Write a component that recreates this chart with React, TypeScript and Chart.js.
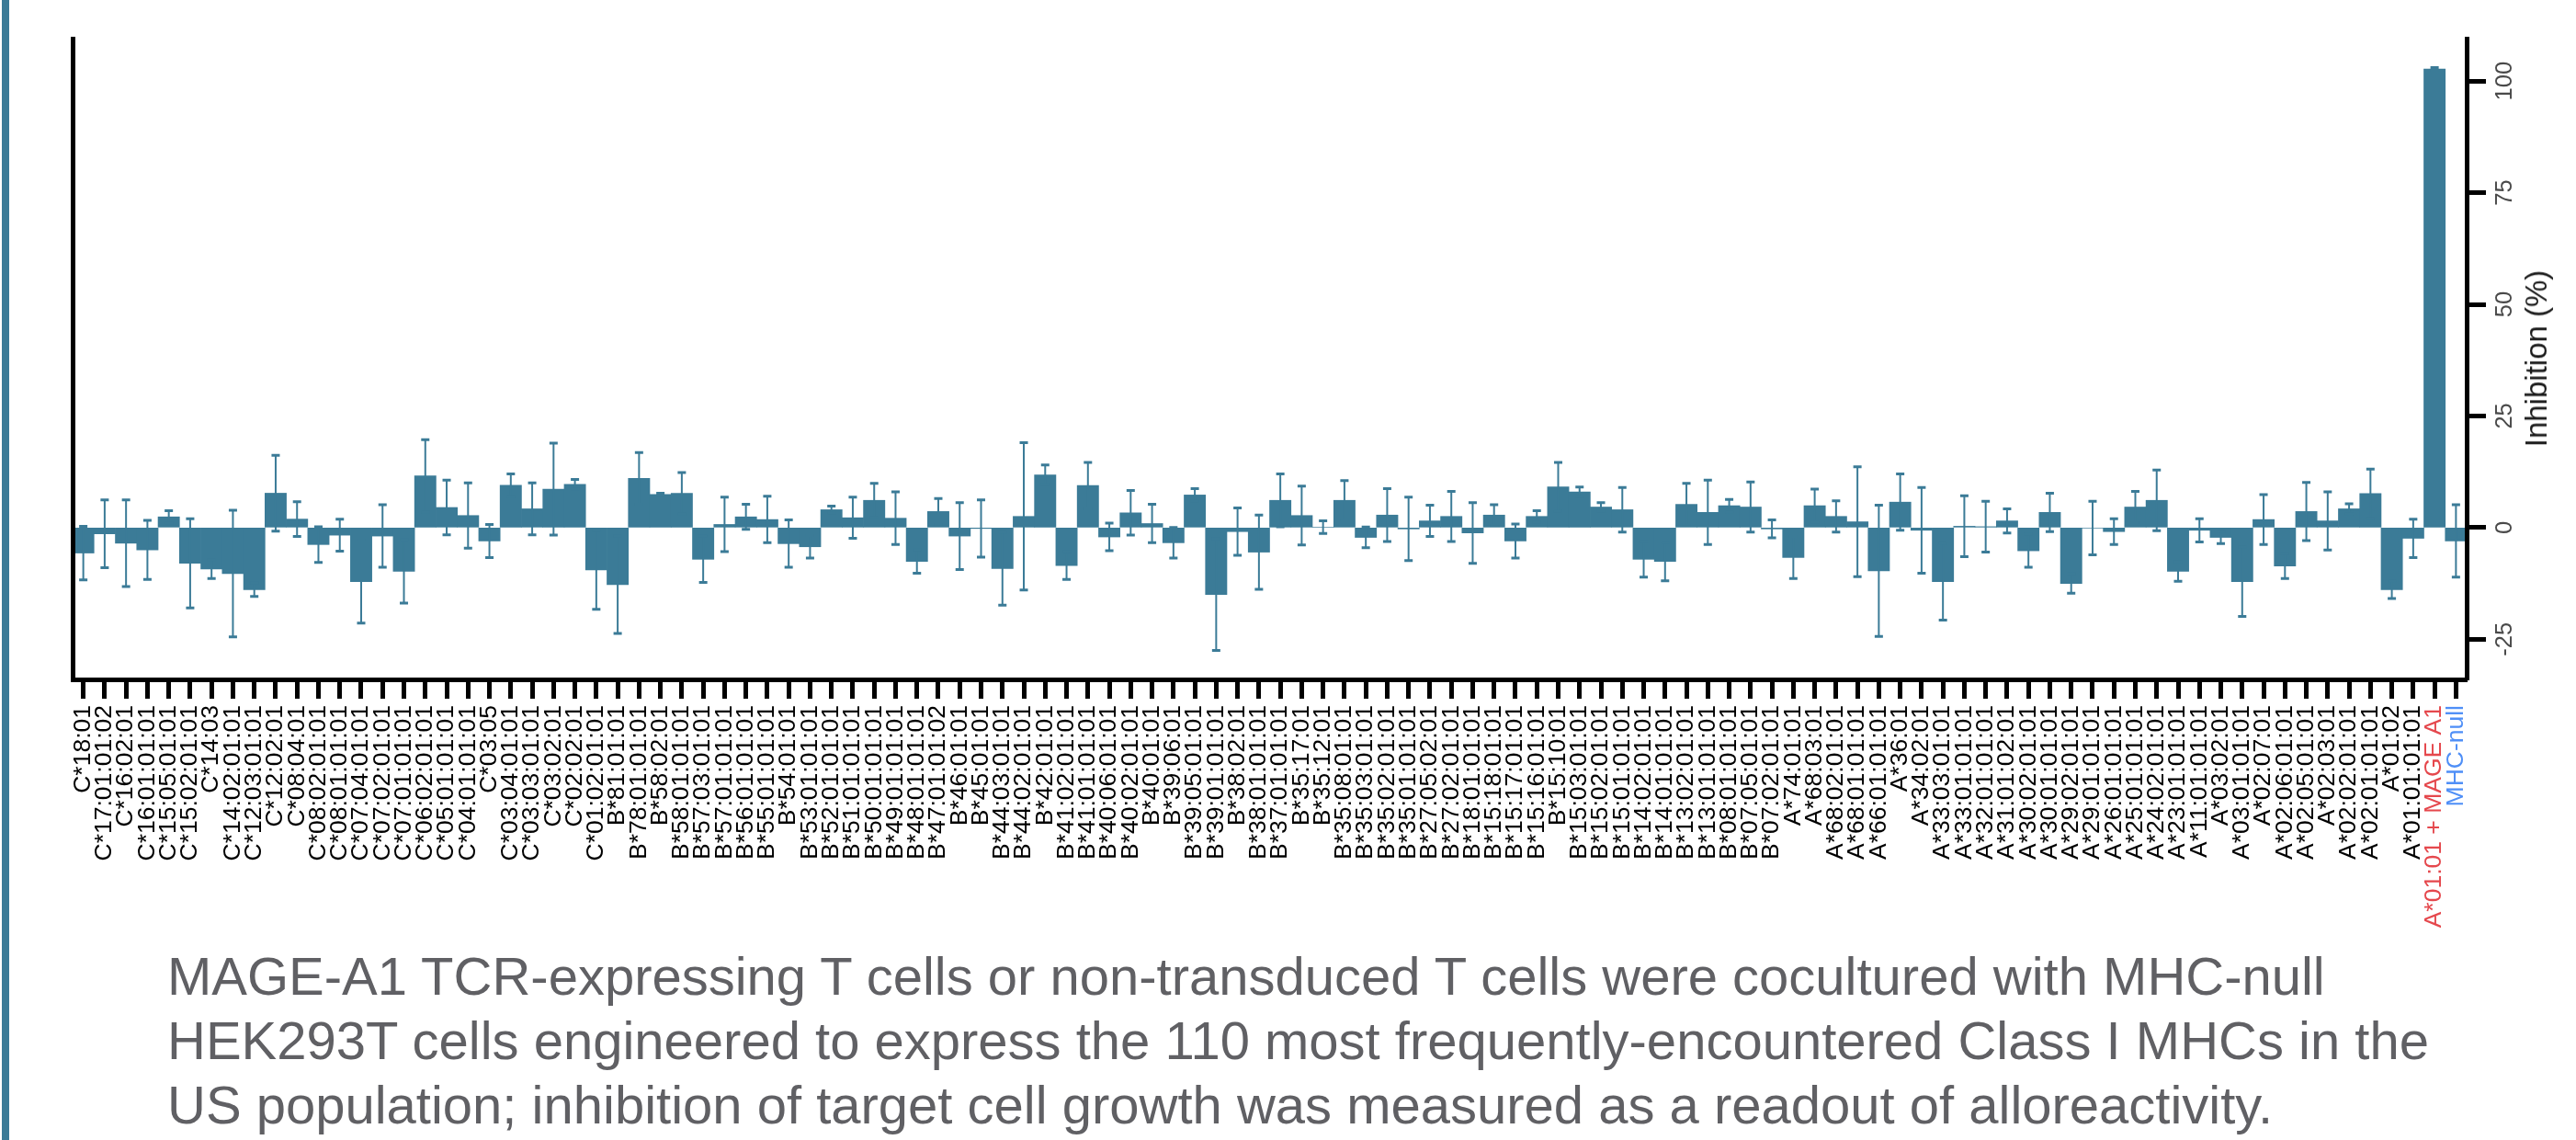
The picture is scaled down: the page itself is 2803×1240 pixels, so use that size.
import React, { useEffect, useRef } from 'react';
import { Chart, registerables } from 'chart.js';

Chart.register(...registerables);

const FONT = "'Liberation Sans', Arial, Helvetica, sans-serif";
const BAR_COLOR = '#3b7b97';

const alleleLabels = [
  'C*18:01', 'C*17:01:01:02', 'C*16:02:01', 'C*16:01:01:01', 'C*15:05:01:01', 'C*15:02:01:01', 'C*14:03',
  'C*14:02:01:01', 'C*12:03:01:01', 'C*12:02:01', 'C*08:04:01', 'C*08:02:01:01', 'C*08:01:01:01',
  'C*07:04:01:01', 'C*07:02:01:01', 'C*07:01:01:01', 'C*06:02:01:01', 'C*05:01:01:01', 'C*04:01:01:01',
  'C*03:05', 'C*03:04:01:01', 'C*03:03:01:01', 'C*03:02:01', 'C*02:02:01', 'C*01:02:01:01',
  'B*81:01:01', 'B*78:01:01:01', 'B*58:02:01', 'B*58:01:01:01', 'B*57:03:01:01', 'B*57:01:01:01',
  'B*56:01:01:01', 'B*55:01:01:01', 'B*54:01:01', 'B*53:01:01:01', 'B*52:01:01:01', 'B*51:01:01:01',
  'B*50:01:01:01', 'B*49:01:01:01', 'B*48:01:01:01', 'B*47:01:01:02', 'B*46:01:01', 'B*45:01:01',
  'B*44:03:01:01', 'B*44:02:01:01', 'B*42:01:01', 'B*41:02:01:01', 'B*41:01:01:01', 'B*40:06:01:01',
  'B*40:02:01:01', 'B*40:01:01', 'B*39:06:01', 'B*39:05:01:01', 'B*39:01:01:01', 'B*38:02:01',
  'B*38:01:01:01', 'B*37:01:01:01', 'B*35:17:01', 'B*35:12:01', 'B*35:08:01:01', 'B*35:03:01:01',
  'B*35:02:01:01', 'B*35:01:01:01', 'B*27:05:02:01', 'B*27:02:01:01', 'B*18:01:01:01', 'B*15:18:01:01',
  'B*15:17:01:01', 'B*15:16:01:01', 'B*15:10:01', 'B*15:03:01:01', 'B*15:02:01:01', 'B*15:01:01:01',
  'B*14:02:01:01', 'B*14:01:01:01', 'B*13:02:01:01', 'B*13:01:01:01', 'B*08:01:01:01', 'B*07:05:01:01',
  'B*07:02:01:01',
  'A*74:01:01', 'A*68:03:01', 'A*68:02:01:01', 'A*68:01:01:01', 'A*66:01:01:01', 'A*36:01', 'A*34:02:01',
  'A*33:03:01:01', 'A*33:01:01:01', 'A*32:01:01:01', 'A*31:01:02:01', 'A*30:02:01:01', 'A*30:01:01:01',
  'A*29:02:01:01', 'A*29:01:01:01', 'A*26:01:01:01', 'A*25:01:01:01', 'A*24:02:01:01', 'A*23:01:01:01',
  'A*11:01:01:01', 'A*03:02:01', 'A*03:01:01:01', 'A*02:07:01', 'A*02:06:01:01', 'A*02:05:01:01',
  'A*02:03:01', 'A*02:02:01:01', 'A*02:01:01:01', 'A*01:02', 'A*01:01:01:01',
];
const controlLabels = ['A*01:01 + MAGE A1', 'MHC-null'];
const categories = [...alleleLabels, ...controlLabels];

const meanValues = [
  -5.7, -1.4, -3.5, -5.0, 2.4, -8.0, -9.3, -10.3, -13.9, 7.7, 1.9, -3.8, -1.7, -12.1, -1.9, -9.8, 11.6, 4.5, 2.7,
  -3.0, 9.5, 4.2, 8.6, 9.7, -9.5,
  -12.8, 11.0, 7.4, 7.7, -7.1, 0.7, 2.4, 1.8, -3.6, -4.3, 4.0, 2.2, 6.1, 2.1, -7.6, 3.6, -1.9, -0.2, -9.2, 2.5,
  11.8, -8.5, 9.4, -2.1, 3.3, 0.9, -3.4, 7.3, -15.0, -0.9, -5.5, 6.1, 2.7, 0.1, 6.1, -2.2, 2.8, -0.3, 1.5, 2.5,
  -1.2, 2.8, -3.0, 2.5, 9.1, 8.0, 4.6, 4.0, -7.1, -7.6, 5.2, 3.4, 4.9, 4.6, -0.3,
  -6.7, 4.9, 2.5, 1.3, -9.7, 5.7, -0.6, -12.1, 0.3, 0.2, 1.5, -5.2, 3.4, -12.5, -0.1, -0.9, 4.6, 6.1, -9.8,
  -0.6, -2.2, -12.1, 1.8, -8.6, 3.6, 1.5, 4.2, 7.6, -13.9, -2.4,
  102.7, -3.0,
];

const sdValues = [
  6.0, 7.6, 9.7, 6.6, 1.4, 10.0, 2.1, 14.2, 1.5, 8.5, 3.9, 4.0, 3.6, 9.3, 7.0, 7.1, 8.1, 6.1, 7.3,
  3.7, 2.5, 5.8, 10.3, 1.1, 8.8,
  10.9, 5.8, 0.3, 4.6, 5.2, 6.1, 2.8, 5.2, 5.3, 2.5, 0.8, 4.6, 3.8, 5.9, 2.6, 2.9, 7.5, 6.4, 8.2, 16.5,
  2.2, 3.1, 5.2, 3.1, 5.0, 4.3, 3.4, 1.4, 12.5, 5.3, 8.3, 5.9, 6.6, 1.4, 4.4, 2.3, 5.9, 7.1, 3.5, 5.6,
  6.8, 2.3, 3.8, 1.3, 5.5, 1.1, 1.0, 5.0, 4.0, 4.3, 4.7, 7.2, 1.4, 5.6, 2.0,
  4.7, 3.7, 3.5, 12.3, 14.7, 6.3, 9.6, 8.6, 6.8, 5.7, 2.7, 3.7, 4.3, 2.2, 6.0, 2.9, 3.5, 6.8, 2.2,
  2.6, 1.4, 7.8, 5.6, 2.8, 6.5, 6.5, 1.1, 5.5, 2.0, 4.3,
  0.3, 8.1,
];

const yTickValues = [-25, 0, 25, 50, 75, 100];
const yAxisTitle = 'Inhibition (%)';
const captionLines = [
  'MAGE-A1 TCR-expressing T cells or non-transduced T cells were cocultured with MHC-null',
  'HEK293T cells engineered to express the 110 most frequently-encountered Class I MHCs in the',
  'US population; inhibition of target cell growth was measured as a readout of alloreactivity.',
];

const CANVAS_W = 2803;
const CANVAS_H = 1030;
const AREA_BOTTOM = 739;
const AREA_RIGHT = 2684;

const errorBarPlugin = {
  id: 'errorBars',
  afterDatasetsDraw(chart: any) {
    const meta = chart.getDatasetMeta(0);
    const yScale = chart.scales.y;
    const ctx = chart.ctx;
    ctx.save();
    ctx.strokeStyle = BAR_COLOR;
    meta.data.forEach((bar: any, i: number) => {
      const m = meanValues[i];
      const s = sdValues[i];
      const top = yScale.getPixelForValue(m + s);
      const bot = yScale.getPixelForValue(m - s);
      const x = bar.x;
      ctx.lineWidth = 2;
      ctx.beginPath();
      ctx.moveTo(x, top);
      ctx.lineTo(x, bot);
      ctx.stroke();
      ctx.lineWidth = 3;
      ctx.beginPath();
      ctx.moveTo(x - 4.5, top);
      ctx.lineTo(x + 4.5, top);
      ctx.moveTo(x - 4.5, bot);
      ctx.lineTo(x + 4.5, bot);
      ctx.stroke();
    });
    ctx.restore();
  },
};

export default function App() {
  const canvasRef = useRef<HTMLCanvasElement>(null);

  useEffect(() => {
    document.body.style.margin = '0';
    Chart.defaults.font.family = FONT;
    const chart = new Chart(canvasRef.current as HTMLCanvasElement, {
      type: 'bar',
      data: {
        labels: categories,
        datasets: [
          {
            data: meanValues,
            backgroundColor: BAR_COLOR,
            borderWidth: 0,
            barPercentage: 1,
            categoryPercentage: 1,
          },
        ],
      },
      plugins: [errorBarPlugin],
      options: {
        animation: false,
        responsive: true,
        maintainAspectRatio: false,
        layout: { padding: { top: 42, left: 79, right: 0, bottom: 0 } },
        plugins: {
          legend: { display: false },
          tooltip: { enabled: false },
          title: { display: false },
        },
        scales: {
          x: {
            type: 'category',
            offset: true,
            grid: {
              display: true,
              drawOnChartArea: false,
              drawTicks: true,
              offset: false,
              tickLength: 21,
              tickWidth: 5,
              tickColor: '#000',
            },
            border: { display: true, width: 5, color: '#000', z: 1 },
            ticks: {
              autoSkip: false,
              minRotation: 90,
              maxRotation: 90,
              padding: 7,
              font: { family: FONT, size: 26.5 },
              color: (c: any) => (c.index === categories.length - 2 ? '#e5484d' : c.index === categories.length - 1 ? '#4f8ff7' : '#000'),
            },
            afterFit: (s: any) => {
              s.height = CANVAS_H - AREA_BOTTOM;
            },
          },
          y: {
            type: 'linear',
            position: 'right',
            min: -34,
            max: 109.5,
            bounds: 'data',
            afterBuildTicks: (s: any) => {
              s.ticks = yTickValues.map((v) => ({ value: v }));
            },
            grid: {
              drawOnChartArea: false,
              drawTicks: true,
              tickLength: 21,
              tickWidth: 5,
              tickColor: '#000',
            },
            border: { display: true, width: 5, color: '#000', z: 1 },
            ticks: {
              minRotation: 90,
              maxRotation: 90,
              crossAlign: 'center',
              padding: 0,
              font: { family: FONT, size: 25.5 },
              color: '#4a4a4a',
              callback: (v: any) => String(v),
            },
            afterFit: (s: any) => {
              s.width = CANVAS_W - AREA_RIGHT;
            },
          },
          yL: {
            type: 'linear',
            position: 'left',
            display: true,
            grid: { display: false, drawTicks: false },
            ticks: { display: false },
            border: { display: true, width: 5, color: '#000', z: 1 },
            afterFit: (s: any) => {
              s.width = 0;
            },
          },
        },
      } as any,
    });
    return () => chart.destroy();
  }, []);

  return (
    <div
      style={{
        position: 'fixed',
        left: 0,
        top: 0,
        width: CANVAS_W,
        height: 1240,
        background: '#fff',
        overflow: 'hidden',
        fontFamily: FONT,
      }}
    >
      <div style={{ position: 'absolute', left: 2, top: 0, width: 8, height: 1240, background: BAR_COLOR }} />
      <div style={{ position: 'absolute', left: 0, top: 0, width: CANVAS_W, height: CANVAS_H }}>
        <canvas ref={canvasRef} />
      </div>
      <div
        style={{
          position: 'absolute',
          left: 2760,
          top: 390,
          transform: 'translate(-50%, -50%) rotate(-90deg)',
          fontSize: 33,
          lineHeight: '36px',
          whiteSpace: 'nowrap',
          color: '#1a1a1a',
        }}
      >
        {yAxisTitle}
      </div>
      <div
        style={{
          position: 'absolute',
          left: 182,
          top: 1027,
          fontSize: 58,
          lineHeight: '70px',
          color: '#606064',
          whiteSpace: 'nowrap',
        }}
      >
        {captionLines.map((l, i) => (
          <div key={i}>{l}</div>
        ))}
      </div>
    </div>
  );
}
